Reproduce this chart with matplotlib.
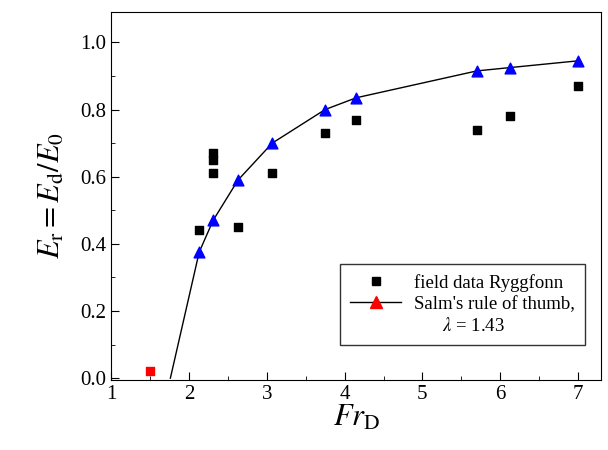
import matplotlib
matplotlib.use("Agg")
from matplotlib import pyplot as plt
from matplotlib.lines import Line2D
from matplotlib.ticker import MultipleLocator, FormatStrFormatter

# field data Ryggfonn
field_fr = [2.13, 2.31, 2.31, 2.31, 2.63, 3.07, 3.75, 4.15, 5.70, 6.13, 7.00]
field_er = [0.44, 0.61, 0.65, 0.67, 0.45, 0.61, 0.73, 0.77, 0.74, 0.78, 0.87]

# single event with (nearly) zero run-out
red_fr = [1.50]
red_er = [0.02]

# Salm's rule of thumb, lambda = 1.43
salm_fr = [2.13, 2.31, 2.63, 3.07, 3.75, 4.15, 5.70, 6.13, 7.00]
salm_er = [0.375, 0.47, 0.59, 0.70, 0.80, 0.835, 0.915, 0.925, 0.945]
# curve starts where E_r hits zero
curve_fr = [1.76] + salm_fr
curve_er = [0.0] + salm_er

plt.rcParams["font.family"] = ["Liberation Serif", "DejaVu Serif"]
plt.rcParams["mathtext.fontset"] = "stix"

fig = plt.figure(figsize=(6.08, 4.5), dpi=100)
ax = fig.add_axes([0.183, 0.156, 0.806, 0.817])

ax.plot(curve_fr, curve_er, color="black", linewidth=1.0, zorder=2)
ax.scatter(salm_fr, salm_er, marker="^", s=60, color="blue", zorder=3)
ax.scatter(field_fr, field_er, marker="s", s=40, color="black", zorder=3)
ax.scatter(red_fr, red_er, marker="s", s=40, color="red", zorder=3)

ax.set_xlim(1, 7.3)
ax.set_ylim(-0.005, 1.09)
ax.xaxis.set_major_locator(MultipleLocator(1))
ax.xaxis.set_minor_locator(MultipleLocator(0.5))
ax.yaxis.set_major_locator(MultipleLocator(0.2))
ax.yaxis.set_minor_locator(MultipleLocator(0.1))
ax.yaxis.set_major_formatter(FormatStrFormatter("%.1f"))
ax.tick_params(which="both", direction="in", top=False, right=False, labelsize=15)
ax.tick_params(which="major", length=6)
ax.tick_params(which="minor", length=3)

ax.set_xlabel(r"$Fr_{\mathrm{D}}$", fontsize=22, labelpad=0)
ax.set_ylabel(r"$E_{\mathrm{r}} = E_{\mathrm{d}} / E_{0}$", fontsize=22, labelpad=10)

handles = [
    Line2D([], [], linestyle="none", marker="s", markersize=6, color="black"),
    Line2D([], [], color="black", linewidth=1.0, marker="^", markersize=8,
           markerfacecolor="red", markeredgecolor="red"),
    Line2D([], [], linestyle="none"),
]
labels = ["field data Ryggfonn", "Salm's rule of thumb,", "      $\\lambda$ = 1.43"]
leg = ax.legend(handles, labels, loc="lower right", bbox_to_anchor=(0.967, 0.095),
                borderaxespad=0, fontsize=13.5, frameon=True, fancybox=False,
                edgecolor="black", borderpad=0.55, handlelength=2.7,
                labelspacing=0.2, handletextpad=0.7)
leg.get_frame().set_linewidth(1.0)

fig.savefig("out.png", dpi=100)
